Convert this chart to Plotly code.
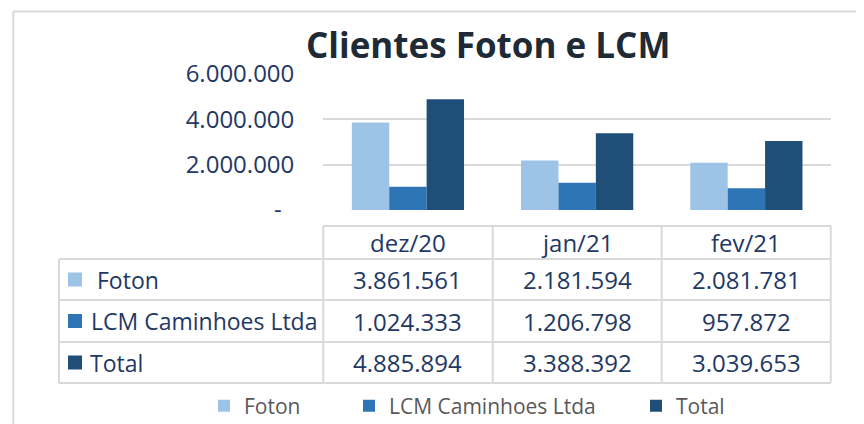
import plotly.graph_objects as go

# ---- data ----
categories = ["dez/20", "jan/21", "fev/21"]
series_names = ["Foton", "LCM Caminhoes Ltda", "Total"]
foton = [3861561, 2181594, 2081781]
lcm = [1024333, 1206798, 957872]
total = [4885894, 3388392, 3039653]
ytick_vals = [0, 2000000, 4000000, 6000000]
ytick_text = ["-\u00a0\u00a0", "2.000.000", "4.000.000", "6.000.000"]
title_text = "Clientes Foton e LCM"

colors = ["#9dc3e6", "#2e75b6", "#1f4e79"]
series_values = [foton, lcm, total]

# the page body has an 8px margin: size the figure to fit the 864x424 window
OFF = 8
W, H = 864 - OFF, 424 - OFF
def px(x):  # viewport pixel -> paper fraction
    return (x - OFF) / W
def py(y):
    return 1 - (y - OFF) / H

FONT = "Open Sans"
BLUE_TXT = "#1f3864"
GRID = "#d9d9d9"

fig = go.Figure()
legends = ["legend", "legend2", "legend3"]
for name, vals, col, lg in zip(series_names, series_values, colors, legends):
    fig.add_trace(go.Bar(x=categories, y=vals, name=name, marker_color=col,
                         marker_line_width=0, legend=lg))

# ---- table (lines + text) ----
shapes = []
line = dict(color=GRID, width=2)
x_left, x_plot_l, x_plot_r = 59, 323, 831
y_head_top, y_rows = 226, [259, 300, 342, 383]
# outer chart border (top + left)
shapes.append(dict(type="line", xref="paper", yref="paper", x0=px(13.3), x1=1.01,
                   y0=py(11.5), y1=py(11.5), line=line))
shapes.append(dict(type="line", xref="paper", yref="paper", x0=px(13.3), x1=px(13.3),
                   y0=py(11.5), y1=-0.01, line=line))
# header top line
shapes.append(dict(type="line", xref="paper", yref="paper", x0=px(x_plot_l), x1=px(x_plot_r),
                   y0=py(y_head_top), y1=py(y_head_top), line=line))
for yy in y_rows:
    shapes.append(dict(type="line", xref="paper", yref="paper", x0=px(x_left), x1=px(x_plot_r),
                       y0=py(yy), y1=py(yy), line=line))
# vertical lines
shapes.append(dict(type="line", xref="paper", yref="paper", x0=px(x_left), x1=px(x_left),
                   y0=py(y_rows[0]), y1=py(y_rows[-1]), line=line))
for xx in [323.3, 492.7, 661.7, 830.7]:
    shapes.append(dict(type="line", xref="paper", yref="paper", x0=px(xx), x1=px(xx),
                       y0=py(y_head_top), y1=py(y_rows[-1]), line=line))

annotations = []
head_y = (y_head_top + y_rows[0]) / 2
for i, c in enumerate(categories):
    annotations.append(dict(x=i, xref="x", y=py(head_y), yref="paper", text=c,
                            showarrow=False, font=dict(family=FONT, size=24, color=BLUE_TXT),
                            xanchor="center", yanchor="middle"))
label_x = [95, 89, 88]
for r, (name, vals, col) in enumerate(zip(series_names, series_values, colors)):
    yc = (y_rows[r] + y_rows[r + 1]) / 2
    shapes.append(dict(type="rect", xref="paper", yref="paper", x0=px(68), x1=px(82),
                       y0=py(yc - 7), y1=py(yc + 7), fillcolor=col, line=dict(width=0)))
    annotations.append(dict(x=px(label_x[r]), xref="paper", y=py(yc), yref="paper", text=name,
                            showarrow=False, font=dict(family=FONT, size=23, color=BLUE_TXT),
                            xanchor="left", yanchor="middle"))
    for i, v in enumerate(vals):
        annotations.append(dict(x=i, xref="x", y=py(yc), yref="paper",
                                text=f"{v:,}".replace(",", "."),
                                showarrow=False, font=dict(family=FONT, size=24, color=BLUE_TXT),
                                xanchor="center", yanchor="middle"))

annotations.append(dict(x=px(488), xref="paper", y=py(44), yref="paper", text=f"<b>{title_text}</b>",
                        showarrow=False, font=dict(family=FONT, size=35, color="#1e2a36"),
                        xanchor="center", yanchor="middle"))

leg_common = dict(orientation="h", yanchor="middle", xanchor="left",
                  font=dict(family=FONT, size=21, color="#595959"),
                  bgcolor="rgba(0,0,0,0)", borderwidth=0)
leg_y = py(406)
fig.update_layout(
    width=W, height=H,
    margin=dict(l=0, r=0, t=0, b=0, autoexpand=False),
    paper_bgcolor="white", plot_bgcolor="white",
    barmode="group", bargap=0.337, bargroupgap=0,
    showlegend=True,
    legend=dict(x=px(204), y=leg_y, **leg_common),
    legend2=dict(x=px(349), y=leg_y, **leg_common),
    legend3=dict(x=px(636), y=leg_y, **leg_common),
    xaxis=dict(domain=[px(323.3), px(831)], showticklabels=False, showgrid=False,
               zeroline=False, showline=False, ticks="", automargin=False),
    yaxis=dict(domain=[py(210), py(74)], range=[0, 6000000], tickvals=ytick_vals,
               ticktext=ytick_text, showgrid=True, gridcolor=GRID, gridwidth=2,
               zeroline=False, showline=False, ticks="", ticklabelstandoff=28,
               automargin=False,
               tickfont=dict(family=FONT, size=24, color=BLUE_TXT)),
    shapes=shapes, annotations=annotations,
)
fig.write_html("out.html")
